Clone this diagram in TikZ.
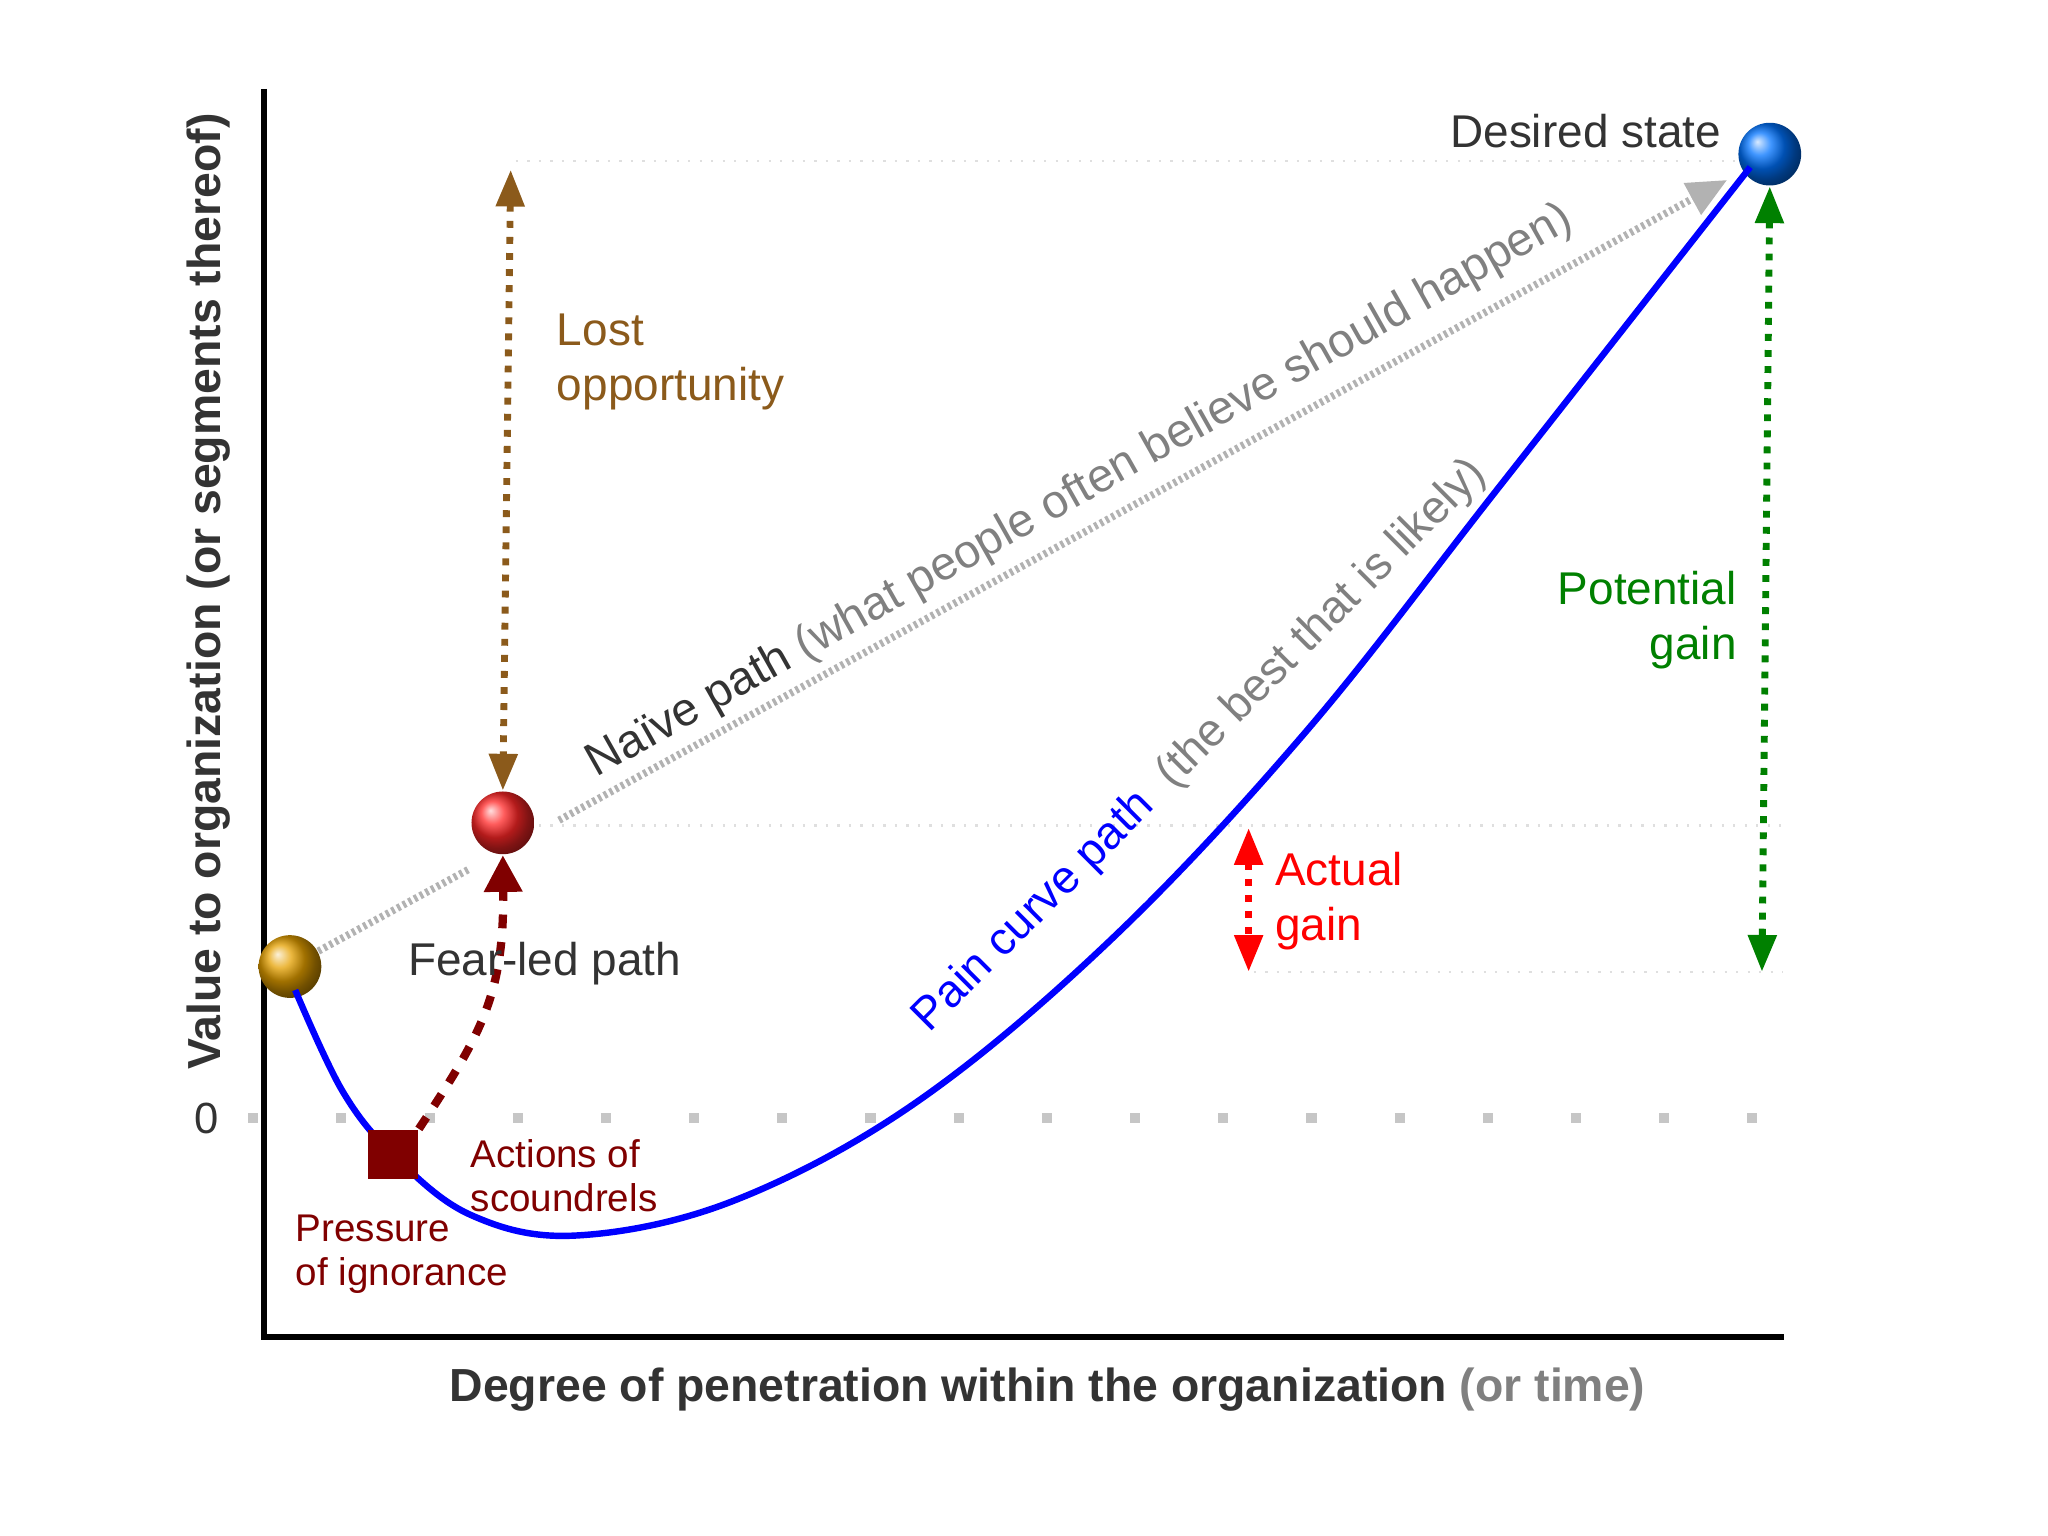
\documentclass[tikz,border=0pt]{standalone}
\usepackage{fontspec}
\setmainfont{Liberation Sans}
\usetikzlibrary{arrows.meta}
\definecolor{brn}{RGB}{139,90,27}
\definecolor{dred}{RGB}{128,0,0}
\definecolor{dgreen}{RGB}{0,128,0}
\definecolor{txt}{RGB}{51,51,51}
\begin{document}
\begin{tikzpicture}[x=0.01cm,y=-0.01cm,
  ball/.style={circle,minimum size=0.48cm,inner sep=0,shading=ball},
  faint/.style={gray!25,line width=0.5pt,dotted},
  ndot/.style={gray!60,line width=1.6pt,dash pattern=on 0.7pt off 0.7pt},
  lbl/.style={font=\fontsize{9.5}{11}\selectfont,align=left}]
\useasboundingbox (0,0) rectangle (1568,1176);
% faint guide lines
\draw[faint] (395,123) -- (1330,123);
\draw[faint] (395,632) -- (1365,632);
\draw[faint] (960,744) -- (1365,744);
% zero line
\draw[gray!45,line width=2.2pt,dash pattern=on 2.2pt off 17pt] (190,856) -- (1352,856);
\node[font=\fontsize{9.5}{11}\selectfont,text=txt] (zero) at (158,856) {0};
% axes
\coordinate (top) at (202,68);
\coordinate (orig) at (202,1024);
\coordinate (right) at (1366,1024);
\draw[line width=1.3pt] (top) -- (orig) -- (right);
\node[rotate=90,font=\bfseries\fontsize{10.1}{12}\selectfont,text=txt] (ylab) at (160,453) {Value to organization (or segments thereof)};
\node[font=\bfseries\fontsize{10.1}{12}\selectfont,text=txt] (xlab) at (802,1064) {Degree of penetration within the organization \textcolor{gray}{(or time)}};
% balls
\node[ball,ball color=orange!60!yellow!90!black] (gold) at (222,740) {};
\node[ball,ball color=red!85!white] (redb) at (385,630) {};
\node[ball,ball color=blue!55!cyan] (blueb) at (1355,118) {};
% pain curve
\draw[blue,line width=1.4pt] plot[smooth,tension=0.6] coordinates {(226,758)(262,835)(301,884)(360,930)(440,946)(560,920)(700,845)(850,720)(1000,560)(1150,370)(1340,128)};
% square
\node[fill=dred,minimum size=0.38cm,inner sep=0] (sq) at (301,884) {};
% naive path
\coordinate (n1) at (360,665);
\coordinate (n2) at (428,628);
\coordinate (n3) at (1296,152);
\coordinate (n4) at (1322,138);
\draw[ndot] (gold) -- (n1);
\draw[ndot] (n2) -- (n3);
\fill[gray!60] (n4) -- (1302.4,164.7) -- (1289,140.1) -- cycle;
\node[rotate=29.4,font=\fontsize{10.2}{12}\selectfont,text=txt,anchor=south west] (naive) at (456,619) {Naïve path \textcolor{gray}{(what people often believe should happen)}};
\node[rotate=45,font=\fontsize{10}{12}\selectfont,text=blue,anchor=south west] (pain) at (717,814) {Pain curve path \ \textcolor{gray}{(the best that is likely)}};
% fear-led
\draw[dred,line width=1.8pt,dashed,-{Triangle[length=8pt,width=8pt]}] (sq.north east) .. controls (370,790) and (386,760) .. (redb.south);
\node[lbl,text=txt,anchor=west,font=\fontsize{10}{12}\selectfont] (fear) at (300,738) {Fear-led path};
\node[lbl,text=dred,anchor=north west,font=\fontsize{8.4}{9.6}\selectfont] (act) at (348,860) {Actions of\\scoundrels};
\node[lbl,text=dred,anchor=north west,font=\fontsize{8.4}{9.6}\selectfont] (pres) at (214,918) {Pressure\\of ignorance};
% lost opportunity
\coordinate (lo) at (391,130);
\draw[brn,line width=1.5pt,dotted,{Triangle[length=8pt,width=6pt]}-{Triangle[length=8pt,width=6pt]}] (lo) -- (redb.north);
\node[lbl,text=brn,anchor=north west,font=\fontsize{10}{12}\selectfont] (lost) at (414,228) {Lost\\opportunity};
% actual gain
\coordinate (a1) at (956,634);
\coordinate (a2) at (956,744);
\draw[red,line width=1.5pt,dotted,{Triangle[length=8pt,width=6pt]}-{Triangle[length=8pt,width=6pt]}] (a1) -- (a2);
\node[lbl,text=red,anchor=west,font=\fontsize{10}{12}\selectfont] (actual) at (964,690) {Actual\\gain};
% potential gain
\coordinate (p2) at (1349,744);
\draw[dgreen,line width=1.5pt,dotted,{Triangle[length=8pt,width=6pt]}-{Triangle[length=8pt,width=6pt]}] (blueb.south) -- (p2);
\node[align=right,text=dgreen,anchor=east,font=\fontsize{10}{12}\selectfont] (pot) at (1342,475) {Potential\\gain};
\node[text=txt,font=\fontsize{10}{12}\selectfont] (des) at (1214,100) {Desired state};
\end{tikzpicture}
\end{document}
